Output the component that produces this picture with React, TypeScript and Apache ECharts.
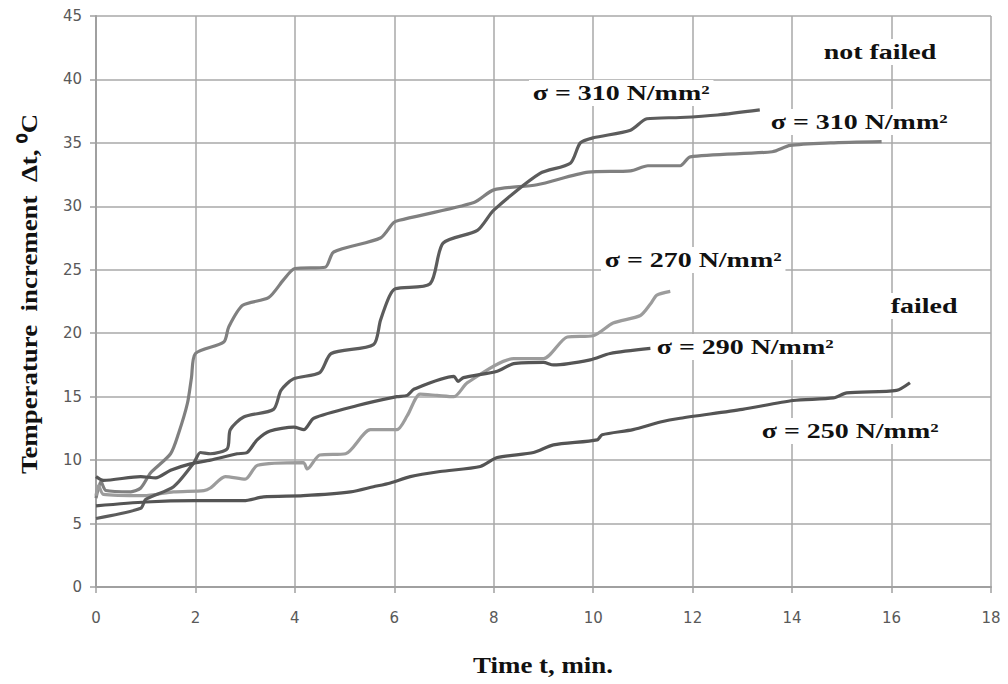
import React, { useEffect, useRef } from "react";
import * as echarts from "echarts";

// σ = 310 N/mm² (light curve, not failed)
const t310a = [0, 0.1, 0.2, 0.7, 0.9, 1.1, 1.5, 1.66, 1.84, 1.92, 2.0, 2.57, 2.67, 2.95, 3.47, 3.77, 4.0, 4.61, 4.78, 5.72, 5.98, 6.1, 7.6, 8.0, 8.87, 9.9, 10.75, 11.1, 11.75, 11.95, 13.6, 13.96, 14.77, 15.8];
const v310a = [7.0, 8.3, 7.6, 7.5, 7.8, 9.0, 10.5, 12.1, 14.5, 16.5, 18.4, 19.3, 20.5, 22.2, 22.8, 24.2, 25.1, 25.2, 26.4, 27.5, 28.7, 28.9, 30.3, 31.3, 31.7, 32.7, 32.8, 33.2, 33.2, 33.9, 34.3, 34.8, 35.0, 35.1];
// σ = 310 N/mm² (dark curve, not failed)
const t310b = [0, 0.9, 1.0, 1.56, 1.97, 2.1, 2.3, 2.64, 2.7, 2.97, 3.57, 3.72, 3.97, 4.5, 4.73, 5.58, 5.72, 5.9, 6.02, 6.72, 6.98, 7.67, 8.0, 8.93, 9.54, 9.74, 10.0, 10.75, 11.08, 11.75, 12.5, 13.35];
const v310b = [5.4, 6.2, 6.9, 7.9, 9.8, 10.6, 10.5, 10.9, 12.4, 13.4, 14.0, 15.5, 16.4, 16.9, 18.4, 19.1, 21.0, 22.9, 23.5, 23.9, 27.1, 28.1, 29.7, 32.6, 33.4, 35.0, 35.4, 36.0, 36.9, 37.0, 37.2, 37.6];
// σ = 290 N/mm² (failed)
const t290 = [0, 0.15, 0.9, 1.2, 1.5, 1.9, 2.3, 2.84, 3.04, 3.24, 3.5, 3.98, 4.18, 4.38, 5.26, 6.05, 6.26, 6.4, 7.2, 7.28, 7.39, 8.07, 8.4, 9.0, 9.2, 9.94, 10.34, 11.15];
const v290 = [8.7, 8.4, 8.7, 8.6, 9.2, 9.7, 10.0, 10.5, 10.6, 11.6, 12.3, 12.6, 12.4, 13.3, 14.3, 15.0, 15.1, 15.6, 16.6, 16.2, 16.5, 17.0, 17.6, 17.7, 17.5, 17.9, 18.4, 18.8];
// σ = 270 N/mm² (failed)
const t270 = [0, 0.05, 0.15, 0.96, 1.56, 2.17, 2.3, 2.6, 3.0, 3.25, 4.17, 4.25, 4.5, 5.02, 5.52, 6.05, 6.26, 6.52, 6.86, 7.2, 7.47, 8.4, 9.0, 9.48, 10.0, 10.4, 10.95, 11.15, 11.28, 11.55];
const v270 = [7.2, 8.0, 7.3, 7.2, 7.5, 7.6, 7.8, 8.7, 8.5, 9.6, 9.8, 9.3, 10.4, 10.5, 12.4, 12.4, 13.5, 15.2, 15.1, 15.0, 16.1, 18.0, 18.0, 19.7, 19.8, 20.8, 21.4, 22.3, 23.0, 23.3];
// σ = 250 N/mm² (failed)
const t250 = [0, 1.0, 2.0, 2.97, 3.37, 4.17, 5.12, 5.58, 5.92, 6.32, 6.92, 7.73, 8.07, 8.8, 9.2, 10.08, 10.18, 10.8, 11.35, 11.75, 13.0, 14.02, 14.83, 15.1, 16.1, 16.37];
const v250 = [6.4, 6.7, 6.8, 6.8, 7.1, 7.2, 7.5, 7.9, 8.2, 8.7, 9.1, 9.5, 10.2, 10.6, 11.2, 11.6, 12.0, 12.4, 13.0, 13.3, 14.0, 14.7, 14.9, 15.3, 15.5, 16.1];

const xTicks = { min: 0, max: 18, interval: 2 };
const yTicks = { min: 0, max: 45, interval: 5 };

const xTitle = "Time t, min.";
const yTitle = "Temperature  increment  Δt, ⁰C";

const curveLabels = [
  { text: "not failed", x: 820, y: 52 },
  { text: "σ = 310 N/mm²", x: 529, y: 93 },
  { text: "σ = 310 N/mm²", x: 767, y: 122 },
  { text: "σ = 270 N/mm²", x: 601, y: 260 },
  { text: "failed", x: 887, y: 306 },
  { text: "σ = 290 N/mm²", x: 653, y: 347 },
  { text: "σ = 250 N/mm²", x: 758, y: 431 },
];

const zip = (t: number[], v: number[]) => t.map((x, i) => [x, v[i]]);

const seriesDefs = [
  { name: "σ = 310 light", t: t310a, v: v310a, color: "#808080" },
  { name: "σ = 270", t: t270, v: v270, color: "#9c9c9c" },
  { name: "σ = 310 dark", t: t310b, v: v310b, color: "#5c5c5c" },
  { name: "σ = 290", t: t290, v: v290, color: "#555555" },
  { name: "σ = 250", t: t250, v: v250, color: "#545454" },
];

export default function App() {
  const ref = useRef<HTMLDivElement>(null);
  useEffect(() => {
    if (!ref.current) return;
    const chart = echarts.init(ref.current, undefined, { renderer: "svg" });
    const gridColor = "#a8a8a8";
    const serif = "'Liberation Serif', 'Times New Roman', serif";
    chart.setOption({
      animation: false,
      backgroundColor: "#ffffff",
      grid: { left: 96, right: 17, top: 16, bottom: 97 },
      xAxis: {
        type: "value",
        ...xTicks,
        axisLine: { show: true, lineStyle: { color: "#a0a0a0", width: 2 } },
        axisTick: { show: true, length: 6, lineStyle: { color: "#a0a0a0", width: 1.5 } },
        splitLine: { show: true, lineStyle: { color: gridColor, width: 1.5 } },
        axisLabel: { color: "#595959", fontSize: 15, fontFamily: "DejaVu Sans", margin: 23 },
      },
      yAxis: {
        type: "value",
        ...yTicks,
        axisLine: { show: true, lineStyle: { color: "#a0a0a0", width: 2 } },
        axisTick: { show: true, length: 6, lineStyle: { color: "#a0a0a0", width: 1.5 } },
        splitLine: { show: true, lineStyle: { color: gridColor, width: 1.5 } },
        axisLabel: { color: "#595959", fontSize: 15, fontFamily: "DejaVu Sans", margin: 14 },
      },
      series: seriesDefs.map((s) => ({
        type: "line",
        name: s.name,
        data: zip(s.t, s.v),
        showSymbol: false,
        smooth: 0.25,
        lineStyle: { color: s.color, width: 3.2 },
        z: 3,
      })),
      graphic: [
        ...curveLabels.map((l) => ({
          type: "text",
          x: l.x,
          y: l.y,
          scaleX: 1.27,
          z: 100,
          style: {
            text: l.text,
            fontFamily: serif,
            fontWeight: "bold",
            fontSize: 22,
            fill: "#111111",
            textAlign: "left",
            textVerticalAlign: "middle",
            backgroundColor: "#ffffff",
            padding: [2, 3, 2, 3],
          },
        })),
        {
          type: "text",
          x: 543,
          y: 665,
          scaleX: 1.12,
          style: {
            text: xTitle,
            fontFamily: serif,
            fontWeight: "bold",
            fontSize: 24,
            fill: "#111111",
            textAlign: "center",
            textVerticalAlign: "middle",
          },
        },
        {
          type: "text",
          x: 29,
          y: 294,
          rotation: Math.PI / 2,
          scaleX: 1.12,
          style: {
            text: yTitle,
            fontFamily: serif,
            fontWeight: "bold",
            fontSize: 24,
            fill: "#111111",
            textAlign: "center",
            textVerticalAlign: "middle",
          },
        },
      ],
    });
    return () => chart.dispose();
  }, []);
  return <div ref={ref} style={{ width: 1008, height: 684, position: "absolute", left: 0, top: 0 }} />;
}
